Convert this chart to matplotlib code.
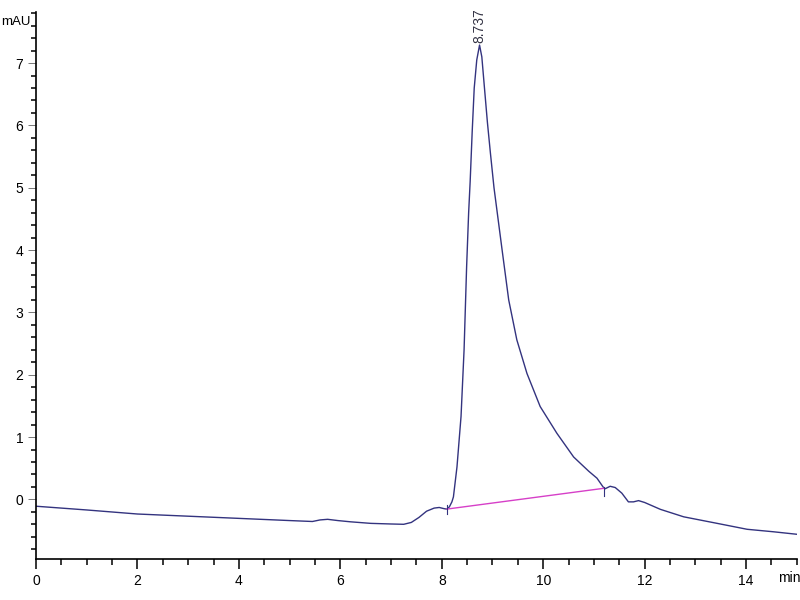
import matplotlib
matplotlib.use("Agg")
import matplotlib.pyplot as plt
import matplotlib.ticker as ticker

plt.rcParams['font.family'] = ['Liberation Sans', 'DejaVu Sans']

# chromatogram trace (min, mAU)
tiempo = [0, 1, 2, 3, 4, 5, 5.45, 5.6, 5.75, 5.95, 6.2, 6.6, 7.0, 7.25, 7.4,
          7.55, 7.7, 7.85, 7.95, 8.05, 8.1, 8.15, 8.2, 8.23, 8.30, 8.38, 8.44,
          8.49, 8.53, 8.56, 8.6, 8.64, 8.69, 8.745, 8.79, 8.84, 8.9, 8.96, 9.03,
          9.19, 9.32, 9.48, 9.68, 9.94, 10.27, 10.6, 10.73, 10.9, 11.06, 11.18,
          11.22, 11.32, 11.42, 11.55, 11.68, 11.78, 11.88, 12.0, 12.31, 12.77,
          13.43, 14.02, 14.54, 15.0]
senal = [-0.11, -0.17, -0.235, -0.27, -0.305, -0.34, -0.355, -0.33, -0.32,
         -0.34, -0.36, -0.385, -0.395, -0.40, -0.37, -0.29, -0.19, -0.14,
         -0.13, -0.15, -0.156, -0.12, -0.04, 0.04, 0.52, 1.33, 2.40, 3.73,
         4.6, 5.1, 5.9, 6.6, 7.05, 7.29, 7.1, 6.62, 6.05, 5.55, 5.0, 4.0, 3.2,
         2.56, 2.02, 1.49, 1.06, 0.68, 0.58, 0.45, 0.34, 0.20, 0.17, 0.21,
         0.19, 0.10, -0.04, -0.04, -0.02, -0.05, -0.16, -0.28, -0.385, -0.48,
         -0.52, -0.56]

# integration baseline
base_t = [8.10, 11.19]
base_y = [-0.156, 0.177]

pico_t = 8.737
pico_y = 7.29
pico_txt = "8.737"

fig = plt.figure(figsize=(8, 6), dpi=100)
ax = fig.add_axes([0.045, 0.068, 0.951, 0.912])

ax.plot(tiempo, senal, color='#33337f', lw=1.0)
ax.plot(base_t, base_y, color='#d63fc8', lw=1.0)
# little drop marks at both ends of the baseline
ax.plot([base_t[0], base_t[0]], [base_y[0] - 0.08, base_y[0] + 0.06], color='#33337f', lw=0.8)
ax.plot([base_t[1], base_t[1]], [base_y[1] - 0.12, base_y[1] + 0.02], color='#33337f', lw=0.8)

ax.text(pico_t, pico_y + 0.03, pico_txt, rotation=90, ha='center', va='bottom',
        fontsize=10, color='#333344', clip_on=False)

ax.set_xlim(0, 15)
ax.set_ylim(-0.96, 7.82)

ax.spines['top'].set_visible(False)
ax.spines['right'].set_visible(False)
ax.spines['left'].set_linewidth(1.2)
ax.spines['bottom'].set_linewidth(1.2)

ax.xaxis.set_major_locator(ticker.MultipleLocator(2))
ax.xaxis.set_minor_locator(ticker.MultipleLocator(0.5))
ax.yaxis.set_major_locator(ticker.MultipleLocator(1))
ax.yaxis.set_minor_locator(ticker.MultipleLocator(0.2))

ax.tick_params(axis='x', which='major', direction='out', length=7, width=1.1, labelsize=10, pad=4)
ax.tick_params(axis='x', which='minor', direction='out', length=4, width=1.1)
ax.tick_params(axis='y', which='major', direction='out', length=6, width=0.7, color='#777777',
               labelsize=10, pad=3)
ax.tick_params(axis='y', which='minor', direction='out', length=3.5, width=1.1)

fig.text(0.002, 0.963, 'mAU', ha='left', va='center', fontsize=9.5)
ax.text(0.99, -0.035, 'min', transform=ax.transAxes, ha='center', va='center', fontsize=10)

plt.savefig('out.png')
